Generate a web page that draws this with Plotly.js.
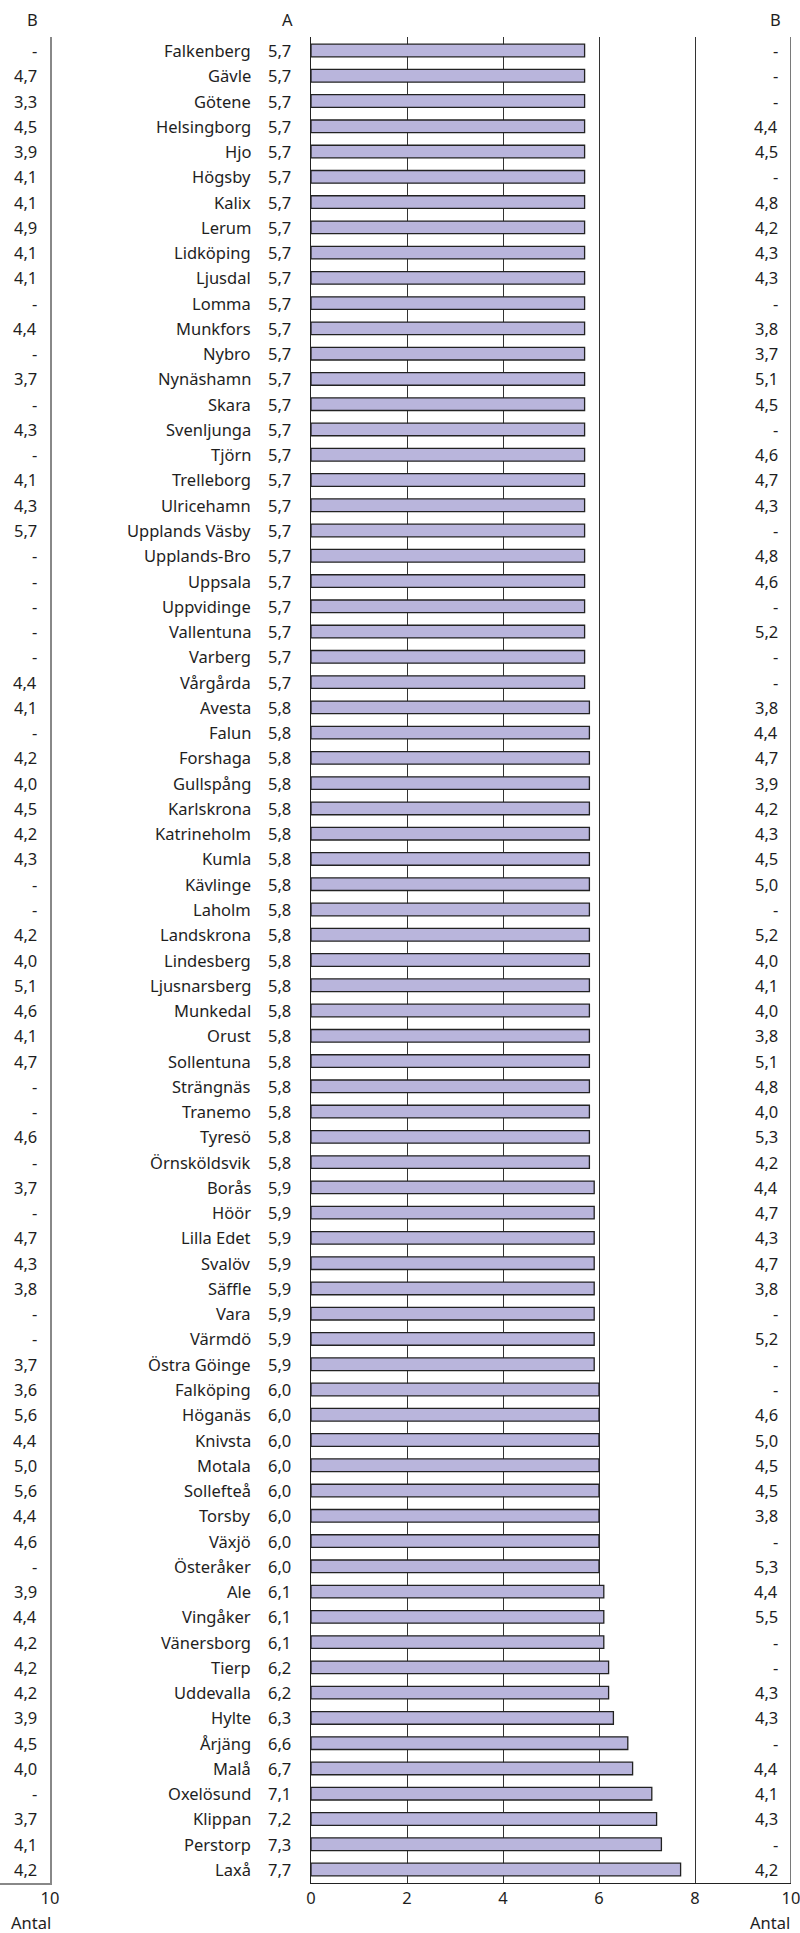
<!DOCTYPE html>
<html>
<head>
<meta charset="utf-8">
<script src="https://cdn.plot.ly/plotly-3.0.1.min.js"></script>
<style>html,body{margin:0;padding:0;background:#fff;}#chart{width:800px;height:1933px;}</style>
</head>
<body>
<div id="chart"></div>
<script>
const categories = ["Falkenberg","Gävle","Götene","Helsingborg","Hjo","Högsby","Kalix","Lerum","Lidköping","Ljusdal","Lomma","Munkfors","Nybro","Nynäshamn","Skara","Svenljunga","Tjörn","Trelleborg","Ulricehamn","Upplands Väsby","Upplands-Bro","Uppsala","Uppvidinge","Vallentuna","Varberg","Vårgårda","Avesta","Falun","Forshaga","Gullspång","Karlskrona","Katrineholm","Kumla","Kävlinge","Laholm","Landskrona","Lindesberg","Ljusnarsberg","Munkedal","Orust","Sollentuna","Strängnäs","Tranemo","Tyresö","Örnsköldsvik","Borås","Höör","Lilla Edet","Svalöv","Säffle","Vara","Värmdö","Östra Göinge","Falköping","Höganäs","Knivsta","Motala","Sollefteå","Torsby","Växjö","Österåker","Ale","Vingåker","Vänersborg","Tierp","Uddevalla","Hylte","Årjäng","Malå","Oxelösund","Klippan","Perstorp","Laxå"];
const valuesA = [5.7,5.7,5.7,5.7,5.7,5.7,5.7,5.7,5.7,5.7,5.7,5.7,5.7,5.7,5.7,5.7,5.7,5.7,5.7,5.7,5.7,5.7,5.7,5.7,5.7,5.7,5.8,5.8,5.8,5.8,5.8,5.8,5.8,5.8,5.8,5.8,5.8,5.8,5.8,5.8,5.8,5.8,5.8,5.8,5.8,5.9,5.9,5.9,5.9,5.9,5.9,5.9,5.9,6.0,6.0,6.0,6.0,6.0,6.0,6.0,6.0,6.1,6.1,6.1,6.2,6.2,6.3,6.6,6.7,7.1,7.2,7.3,7.7];
const valuesBLeft = [null,4.7,3.3,4.5,3.9,4.1,4.1,4.9,4.1,4.1,null,4.4,null,3.7,null,4.3,null,4.1,4.3,5.7,null,null,null,null,null,4.4,4.1,null,4.2,4.0,4.5,4.2,4.3,null,null,4.2,4.0,5.1,4.6,4.1,4.7,null,null,4.6,null,3.7,null,4.7,4.3,3.8,null,null,3.7,3.6,5.6,4.4,5.0,5.6,4.4,4.6,null,3.9,4.4,4.2,4.2,4.2,3.9,4.5,4.0,null,3.7,4.1,4.2];
const valuesBRight = [null,null,null,4.4,4.5,null,4.8,4.2,4.3,4.3,null,3.8,3.7,5.1,4.5,null,4.6,4.7,4.3,null,4.8,4.6,null,5.2,null,null,3.8,4.4,4.7,3.9,4.2,4.3,4.5,5.0,null,5.2,4.0,4.1,4.0,3.8,5.1,4.8,4.0,5.3,4.2,4.4,4.7,4.3,4.7,3.8,null,5.2,null,null,4.6,5.0,4.5,4.5,3.8,null,5.3,4.4,5.5,null,null,4.3,4.3,null,4.4,4.1,4.3,null,4.2];
const xTicks = [0,2,4,6,8,10];
const leftTicks = [10];
const headerA = "A", headerB = "B", axisTitle = "Antal";

const fmt = v => (v === null || v === undefined) ? "-" : v.toFixed(1).replace(".", ",");
const W = 800, H = 1933, MT = 37, MB = 50;
const plotH = H - MT - MB;
const px = p => p / W;
const py = p => (H - MB - p) / plotH;
const FONT = "Noto Sans, Open Sans, sans-serif";
const TXT = "#1e1e1e";
const FS = 16.5;

const annotations = [];
categories.forEach((c, i) => {
  annotations.push({xref:"paper", yref:"y", x:px(253), y:c, xanchor:"right", yanchor:"middle", text:c, showarrow:false, font:{size:FS, color:TXT}});
  annotations.push({xref:"paper", yref:"y", x:px(293), y:c, xanchor:"right", yanchor:"middle", text:fmt(valuesA[i]), showarrow:false, font:{size:FS, color:TXT}});
  annotations.push({xref:"paper", yref:"y", x:px(39), y:c, xanchor:"right", yanchor:"middle", text:fmt(valuesBLeft[i]), showarrow:false, font:{size:FS, color:TXT}});
  annotations.push({xref:"paper", yref:"y", x:px(780), y:c, xanchor:"right", yanchor:"middle", text:fmt(valuesBRight[i]), showarrow:false, font:{size:FS, color:TXT}});
});
annotations.push({xref:"paper", yref:"paper", x:px(32.5), y:py(20), xanchor:"center", yanchor:"middle", text:headerB, showarrow:false, font:{size:FS, color:TXT}});
annotations.push({xref:"paper", yref:"paper", x:px(287.5), y:py(20), xanchor:"center", yanchor:"middle", text:headerA, showarrow:false, font:{size:FS, color:TXT}});
annotations.push({xref:"paper", yref:"paper", x:px(775), y:py(20), xanchor:"center", yanchor:"middle", text:headerB, showarrow:false, font:{size:FS, color:TXT}});
annotations.push({xref:"paper", yref:"paper", x:px(53), y:py(1923), xanchor:"right", yanchor:"middle", text:axisTitle, showarrow:false, font:{size:FS, color:TXT}});
annotations.push({xref:"paper", yref:"paper", x:px(792), y:py(1923), xanchor:"right", yanchor:"middle", text:axisTitle, showarrow:false, font:{size:FS, color:TXT}});

const traces = [
  {type:"bar", orientation:"h", x:valuesA, y:categories, xaxis:"x", yaxis:"y",
   marker:{color:"#b9b5dc", line:{color:"#222", width:1.3}}, hoverinfo:"skip"},
  {type:"scatter", mode:"none", x:[], y:[], xaxis:"x2", yaxis:"y2", hoverinfo:"skip", showlegend:false}
];

const layout = {
  width:W, height:H,
  margin:{l:0, r:0, t:MT, b:MB, pad:0},
  paper_bgcolor:"#fff", plot_bgcolor:"rgba(0,0,0,0)",
  showlegend:false, bargap:0.5,
  font:{family:FONT, size:FS, color:TXT},
  xaxis:{domain:[px(311), px(791)], range:[0,10], tickvals:xTicks, ticktext:xTicks.map(String),
         showgrid:true, gridcolor:"#333", gridwidth:1, zeroline:false, ticklabeloverflow:"allow",
         showline:true, linecolor:"#222", linewidth:1.2, ticks:"", tickfont:{size:FS, color:TXT}, fixedrange:true},
  yaxis:{type:"category", categoryorder:"array", categoryarray:categories, autorange:"reversed",
         showticklabels:false, showgrid:false, zeroline:false, showline:true, linecolor:"#222", linewidth:1.2, ticks:""},
  xaxis2:{domain:[0, px(50)], range:[0,10], tickvals:leftTicks, ticktext:leftTicks.map(String), anchor:"y2",
          showgrid:false, zeroline:false, showline:true, linecolor:"#888", linewidth:1.5, ticks:"", ticklabeloverflow:"allow",
          tickfont:{size:FS, color:TXT}},
  yaxis2:{type:"category", categoryorder:"array", categoryarray:categories, autorange:"reversed", anchor:"x2", side:"right",
          showticklabels:false, showgrid:false, zeroline:false, showline:true, linecolor:"#888", linewidth:1.5, ticks:""},
  shapes:[{type:"line", xref:"x", yref:"paper", x0:10, x1:10, y0:0, y1:1, line:{color:"#222", width:1.2}}],
  annotations:annotations
};

Plotly.newPlot("chart", traces, layout, {displayModeBar:false, staticPlot:true});
</script>
</body>
</html>
